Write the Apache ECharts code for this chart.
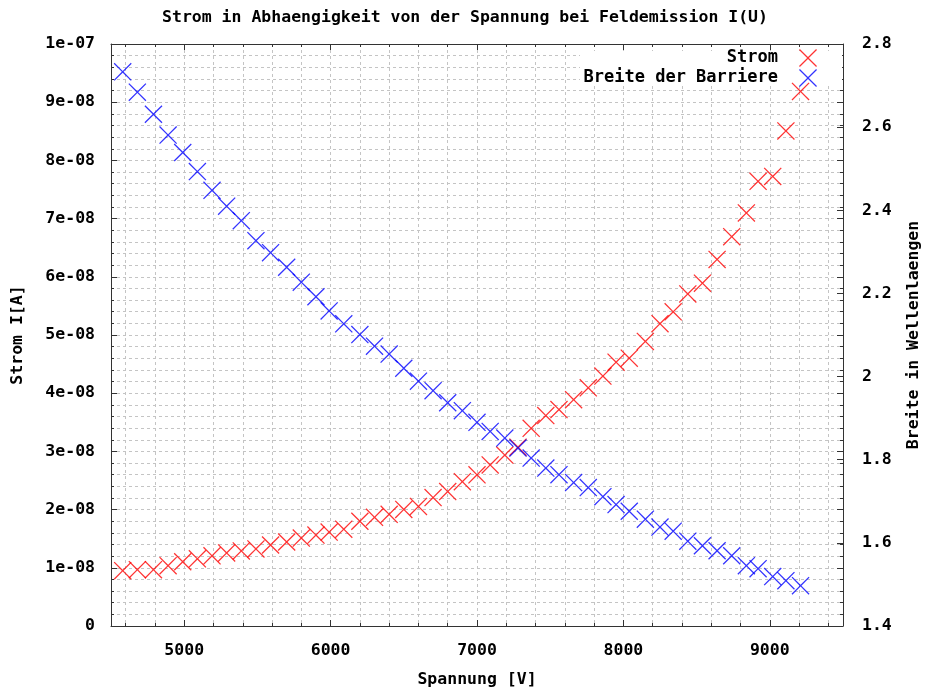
<!DOCTYPE html>
<html><head><meta charset="utf-8">
<script src="https://cdn.jsdelivr.net/npm/echarts@6/dist/echarts.min.js"></script>
<style>html,body{margin:0;padding:0;background:#fff}#c{width:930px;height:693px}</style>
</head><body><div id="c"></div>
<script>
const voltage = [4580,4680,4790,4890,4990,5090,5190,5290,5390,5490,5590,5700,5800,5900,5990,6090,6200,6300,6400,6500,6600,6700,6800,6900,7000,7090,7190,7280,7370,7470,7560,7660,7760,7860,7950,8040,8150,8250,8340,8440,8540,8640,8740,8840,8920,9020,9110,9210];
const strom = [9.51e-9,9.68e-9,9.68e-9,1.036e-8,1.104e-8,1.155e-8,1.205e-8,1.256e-8,1.29e-8,1.324e-8,1.392e-8,1.443e-8,1.511e-8,1.562e-8,1.613e-8,1.664e-8,1.80e-8,1.868e-8,1.919e-8,2.003e-8,2.054e-8,2.207e-8,2.309e-8,2.479e-8,2.598e-8,2.767e-8,2.937e-8,3.073e-8,3.396e-8,3.616e-8,3.718e-8,3.888e-8,4.092e-8,4.295e-8,4.533e-8,4.601e-8,4.89e-8,5.195e-8,5.399e-8,5.705e-8,5.891e-8,6.299e-8,6.689e-8,7.097e-8,7.64e-8,7.725e-8,8.506e-8,9.185e-8];
const breite = [2.733,2.684,2.631,2.581,2.539,2.493,2.448,2.410,2.375,2.327,2.298,2.263,2.227,2.192,2.158,2.127,2.101,2.073,2.054,2.020,1.989,1.966,1.937,1.918,1.890,1.868,1.852,1.828,1.804,1.780,1.764,1.745,1.733,1.711,1.692,1.676,1.657,1.638,1.628,1.604,1.593,1.581,1.569,1.545,1.538,1.519,1.509,1.497];
const xTickLabels = ['5000','6000','7000','8000','9000'];
const leftTickLabels = ['0','1e-08','2e-08','3e-08','4e-08','5e-08','6e-08','7e-08','8e-08','9e-08','1e-07'];
const rightTickLabels = ['1.4','1.6','1.8','2','2.2','2.4','2.6','2.8'];
const seriesNames = ['Strom','Breite der Barriere'];
const titleText = 'Strom in Abhaengigkeit von der Spannung bei Feldemission I(U)';

const FONT = 'DejaVu Sans Mono';
const txt = {fontFamily: FONT, fontWeight: 'bold', fontSize: 16.5, color: '#000'};
const legTxt = {fontFamily: FONT, fontWeight: 'bold', fontSize: 17, color: '#000'};
const AXC = '#333';
const GRIDC = '#c4c4c4';
// thin filled X outline
const XSYM = 'path://M0,0.5L0.5,0L5,4.5L9.5,0L10,0.5L5.5,5L10,9.5L9.5,10L5,5.5L0.5,10L0,9.5L4.5,5Z';
const dashed = {show: true, lineStyle: {color: GRIDC, width: 1, type: [3, 3]}};

const chart = echarts.init(document.getElementById('c'), null, {renderer: 'canvas'});
const commonX = {
  type: 'value', min: 4500, max: 9500, splitNumber: 5,
  axisLine: {show: true, onZero: false, lineStyle: {color: AXC, width: 1}},
  axisTick: {show: true, inside: true, length: 6, lineStyle: {color: AXC}},
  minorTick: {show: true, splitNumber: 5, length: 3, lineStyle: {color: AXC}}
};
const option = {
  animation: false,
  backgroundColor: '#fff',
  title: {text: titleText, left: 'center', top: 4, textStyle: txt},
  grid: {left: 111, right: 81, top: 44, bottom: 60, containLabel: false},
  legend: [
    {data: [seriesNames[0]], right: 113, top: 49, padding: 0, align: 'right', itemWidth: 50, itemHeight: 18,
     textStyle: legTxt, itemStyle: {borderWidth: 0}, selectedMode: false},
    {data: [seriesNames[1]], right: 113, top: 69, padding: 0, align: 'right', itemWidth: 50, itemHeight: 18,
     textStyle: legTxt, itemStyle: {borderWidth: 0}, selectedMode: false}
  ],
  graphic: [{type: 'rect', z: 1, shape: {x: 580, y: 51, width: 262, height: 35}, style: {fill: '#fff'}, silent: true}],
  xAxis: [
    Object.assign({}, commonX, {
      position: 'bottom',
      name: 'Spannung [V]', nameLocation: 'middle', nameGap: 45, nameTextStyle: txt,
      axisLabel: Object.assign({}, txt, {margin: 16, formatter: v => xTickLabels.includes(String(v)) ? String(v) : ''}),
      splitLine: dashed, minorSplitLine: dashed
    }),
    Object.assign({}, commonX, {
      position: 'top', axisLabel: {show: false}, splitLine: {show: false}, minorSplitLine: {show: false}
    })
  ],
  yAxis: [
    {
      type: 'value', position: 'left', min: 0, max: 1e-7, interval: 1e-8,
      name: 'Strom I[A]', nameLocation: 'middle', nameGap: 85, nameRotate: 90, nameTextStyle: txt,
      axisLine: {show: true, onZero: false, lineStyle: {color: AXC, width: 1}},
      axisTick: {show: true, inside: true, length: 6, lineStyle: {color: AXC}},
      minorTick: {show: true, splitNumber: 5, length: 3, lineStyle: {color: AXC}},
      axisLabel: Object.assign({}, txt, {margin: 16, formatter: v => leftTickLabels[Math.round(v / 1e-8)]}),
      splitLine: dashed, minorSplitLine: dashed
    },
    {
      type: 'value', position: 'right', min: 1.4, max: 2.8, interval: 0.2,
      name: 'Breite in Wellenlaengen', nameLocation: 'middle', nameGap: 62, nameRotate: 90, nameTextStyle: txt,
      axisLine: {show: true, onZero: false, lineStyle: {color: AXC, width: 1}},
      axisTick: {show: true, inside: true, length: 6, lineStyle: {color: AXC}},
      axisLabel: Object.assign({}, txt, {margin: 19, formatter: v => rightTickLabels[Math.round((v - 1.4) / 0.2)]}),
      splitLine: {show: false}
    },
    {
      type: 'value', position: 'right', min: 0, max: 1e-7, interval: 1e-8,
      axisLine: {show: false, onZero: false},
      axisTick: {show: true, inside: true, length: 6, lineStyle: {color: AXC}},
      minorTick: {show: true, splitNumber: 5, length: 3, lineStyle: {color: AXC}},
      axisLabel: {show: false}, splitLine: {show: false}
    }
  ],
  series: [
    {
      name: seriesNames[0], type: 'scatter', xAxisIndex: 0, yAxisIndex: 0,
      symbol: XSYM, symbolSize: 18, silent: true,
      itemStyle: {color: '#ff0000', borderWidth: 0},
      emphasis: {disabled: true},
      data: voltage.map((v, i) => [v, strom[i]])
    },
    {
      name: seriesNames[1], type: 'scatter', xAxisIndex: 0, yAxisIndex: 1,
      symbol: XSYM, symbolSize: 18, silent: true,
      itemStyle: {color: '#0000ff', borderWidth: 0},
      emphasis: {disabled: true},
      data: voltage.map((v, i) => [v, breite[i]])
    }
  ]
};
chart.setOption(option);
</script>
</body></html>
